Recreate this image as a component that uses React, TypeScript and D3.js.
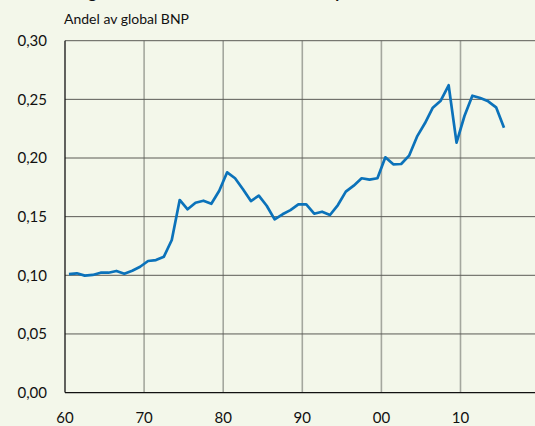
import React, { useRef, useEffect } from "react";
import * as d3 from "d3";

const years = d3.range(1960, 2016);
const shares = [
  0.101, 0.1017, 0.0997, 0.1003, 0.1022, 0.1022, 0.1037, 0.1014, 0.1039, 0.1073,
  0.1122, 0.113, 0.1159, 0.1301, 0.1642, 0.1563, 0.1619, 0.1636, 0.161, 0.1721,
  0.1878, 0.1827, 0.1733, 0.1633, 0.1679, 0.1593, 0.1477, 0.152, 0.1556, 0.1605,
  0.1605, 0.1525, 0.1542, 0.1514, 0.1599, 0.1713, 0.1764, 0.1827, 0.1815, 0.1827,
  0.2006, 0.1946, 0.1949, 0.202, 0.2182, 0.2296, 0.2429, 0.2489, 0.262, 0.2131,
  0.2358, 0.2531, 0.2511, 0.2483, 0.2432, 0.2258,
];
const yTicks = [0, 0.05, 0.1, 0.15, 0.2, 0.25, 0.3];
const xTicks = [1960, 1970, 1980, 1990, 2000, 2010];
const xLabels = ["60", "70", "80", "90", "00", "10"];

const W = 535;
const H = 426;

const App = () => {
  const ref = useRef<SVGSVGElement | null>(null);

  useEffect(() => {
    const svg = d3.select(ref.current);
    svg.selectAll("*").remove();

    const x = d3.scaleLinear().domain([1960, 2020]).range([65, 65 + 60 * 7.91]);
    const y = d3.scaleLinear().domain([0, 0.3]).range([392.6, 40.7]);
    const font = "Lato, 'Open Sans', sans-serif";
    const fmt = (v: number) => v.toFixed(2).replace(".", ",");

    svg.append("rect").attr("width", W).attr("height", H).attr("fill", "#F3F7EA");

    // title, cut off at the top edge as in the source image
    svg
      .append("text")
      .attr("x", 64)
      .attr("y", -2)
      .attr("font-family", font)
      .attr("font-weight", "bold")
      .attr("font-size", 16)
      .attr("fill", "#111")
      .text("Diagram 1. Världshandelns samlade export");

    svg
      .append("text")
      .attr("x", 64)
      .attr("y", 24)
      .attr("font-family", font)
      .attr("font-size", 14)
      .attr("fill", "#111")
      .text("Andel av global BNP");

    // vertical grid
    svg
      .append("g")
      .selectAll("line")
      .data(xTicks.slice(1))
      .enter()
      .append("line")
      .attr("x1", (d) => x(d))
      .attr("x2", (d) => x(d))
      .attr("y1", y(0.3))
      .attr("y2", y(0))
      .attr("stroke", "#A4A79E")
      .attr("stroke-width", 1.6);

    // horizontal grid
    svg
      .append("g")
      .selectAll("line")
      .data(yTicks.slice(1))
      .enter()
      .append("line")
      .attr("x1", x(1960))
      .attr("x2", W)
      .attr("y1", (d) => y(d))
      .attr("y2", (d) => y(d))
      .attr("stroke", "#5A5A55")
      .attr("stroke-width", 1);

    // axes
    svg
      .append("line")
      .attr("x1", x(1960))
      .attr("x2", x(1960))
      .attr("y1", y(0.3))
      .attr("y2", y(0))
      .attr("stroke", "#111")
      .attr("stroke-width", 1.3);
    svg
      .append("line")
      .attr("x1", x(1960))
      .attr("x2", W)
      .attr("y1", y(0))
      .attr("y2", y(0))
      .attr("stroke", "#111")
      .attr("stroke-width", 1.3);

    svg
      .append("g")
      .selectAll("text")
      .data(yTicks)
      .enter()
      .append("text")
      .attr("x", 47)
      .attr("y", (d) => y(d))
      .attr("dy", "0.35em")
      .attr("text-anchor", "end")
      .attr("font-family", font)
      .attr("font-size", 15)
      .attr("fill", "#111")
      .text((d) => fmt(d));

    svg
      .append("g")
      .selectAll("text")
      .data(xTicks)
      .enter()
      .append("text")
      .attr("x", (d) => x(d))
      .attr("y", 417.5)
      .attr("dy", "0.35em")
      .attr("text-anchor", "middle")
      .attr("font-family", font)
      .attr("font-size", 15)
      .attr("fill", "#111")
      .text((d, i) => xLabels[i]);

    const line = d3
      .line<number>()
      .x((d, i) => x(years[i] + 0.5))
      .y((d) => y(d));

    svg
      .append("path")
      .datum(shares)
      .attr("d", line)
      .attr("fill", "none")
      .attr("stroke", "#0B72BA")
      .attr("stroke-width", 2.7)
      .attr("stroke-linejoin", "round");
  }, []);

  return (
    <svg
      ref={ref}
      width={W}
      height={H}
      style={{ position: "absolute", left: 0, top: 0, display: "block" }}
    />
  );
};

export default App;
